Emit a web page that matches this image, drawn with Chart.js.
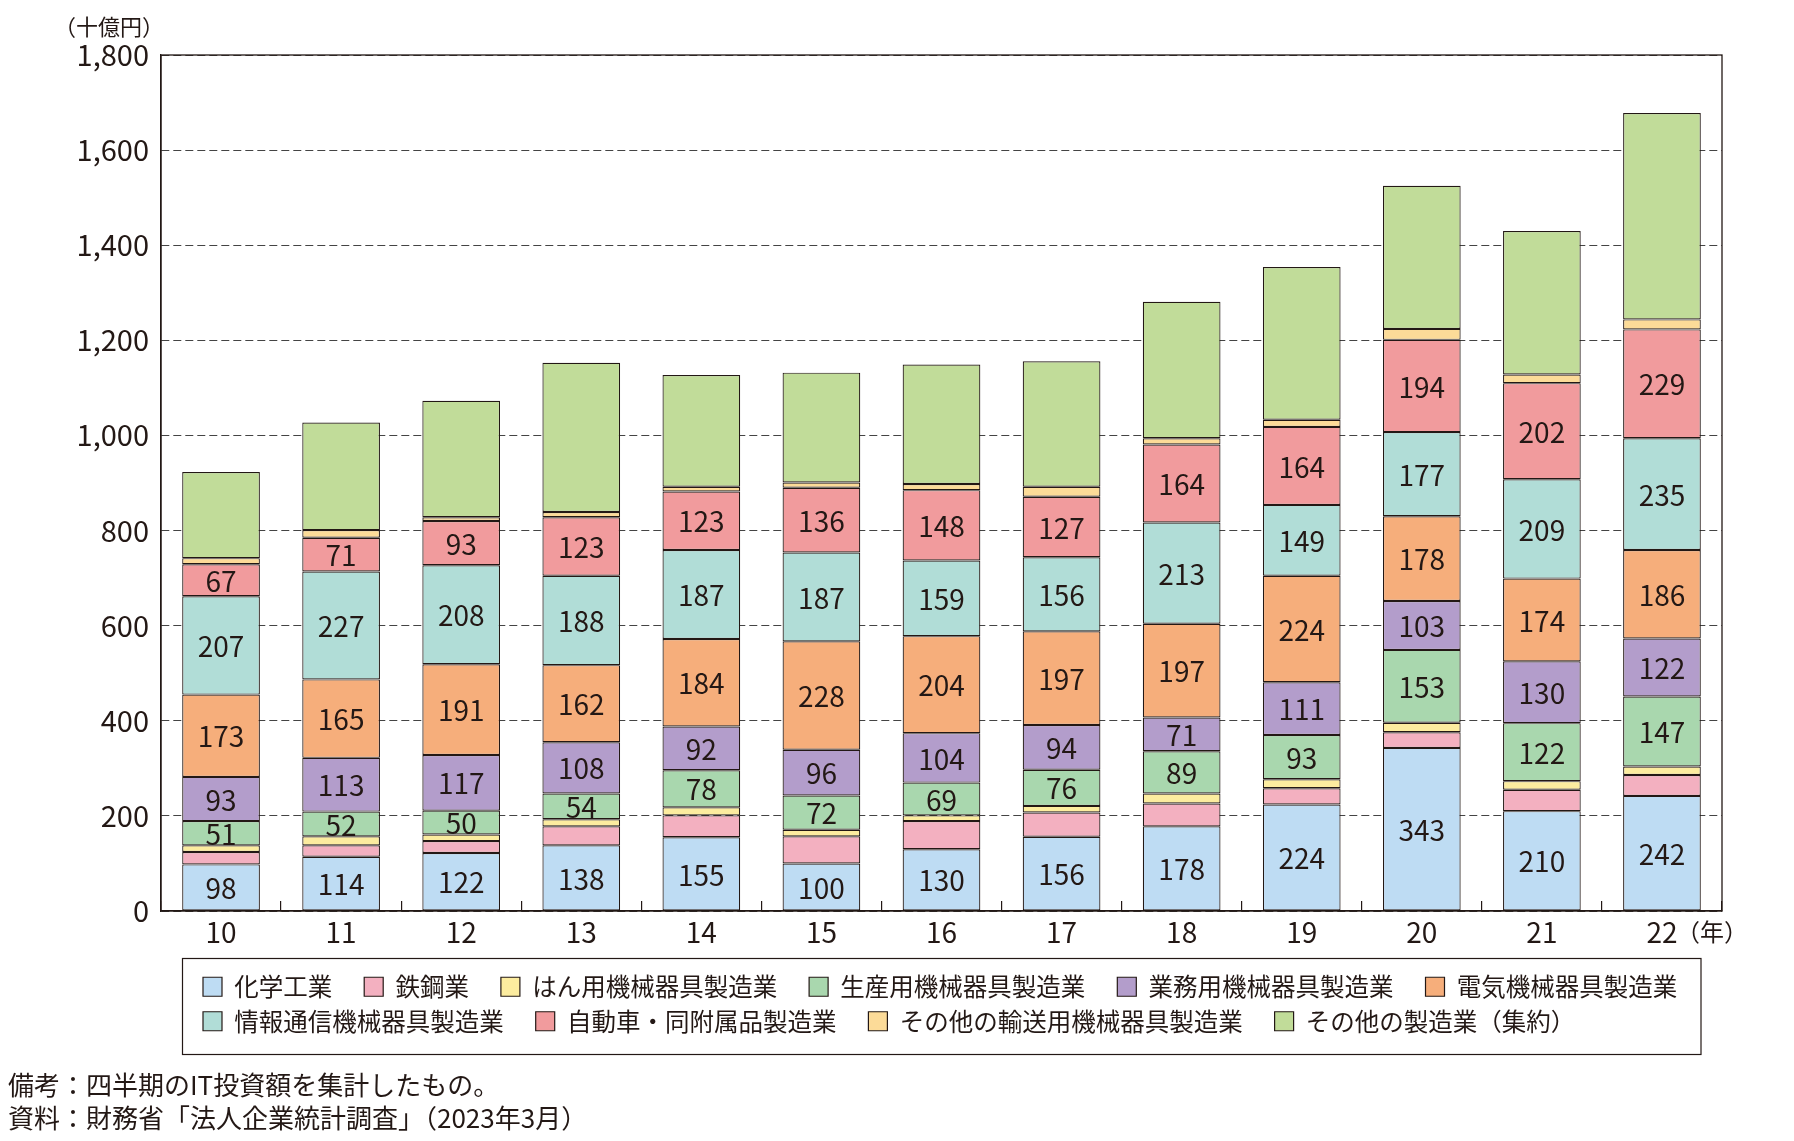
<!DOCTYPE html>
<html lang="ja">
<head>
<meta charset="utf-8">
<title>製造業のIT投資額</title>
<script src="https://cdn.jsdelivr.net/npm/chart.js@4.4.1/dist/chart.umd.min.js"></script>
<style>
html,body{margin:0;padding:0;background:#fff;}
#wrap{width:1794px;height:1141px;}
</style>
</head>
<body>
<div id="wrap"><canvas id="itChart" width="1794" height="1141"></canvas></div>
<script>
// ======================================
// DATA (十億円)
// ======================================

const years = ["10","11","12","13","14","15","16","17","18","19","20","21","22"];

const chemical       = [98,114,122,138,155,100,130,156,178,224,343,210,242];
const steel          = [26,24,25,40,46,57,59,51,48,34,33,45,44];
const generalMach    = [14,19,14,15,17,14,12,14,21,19,20,18,18];
const productionMach = [51,52,50,54,78,72,69,76,89,93,153,122,147];
const businessMach   = [93,113,117,108,92,96,104,94,71,111,103,130,122];
const electrical     = [173,165,191,162,184,228,204,197,197,224,178,174,186];
const infoComm       = [207,227,208,188,187,187,159,156,213,149,177,209,235];
const automobile     = [67,71,93,123,123,136,148,127,164,164,194,202,229];
const otherTransport = [13,16,8,11,10,11,13,21,13,15,23,18,21];
const otherMfg       = [181,226,245,314,235,231,251,264,287,321,301,302,434];

const seriesNames = [
    "化学工業","鉄鋼業","はん用機械器具製造業","生産用機械器具製造業",
    "業務用機械器具製造業","電気機械器具製造業","情報通信機械器具製造業",
    "自動車・同附属品製造業","その他の輸送用機械器具製造業","その他の製造業（集約）"
];

const seriesColors = [
    "#bedcf3","#f3b0c0","#fcec9f","#a9d7ae","#b39dcb",
    "#f6ae7b","#b1ddd7","#f19b9d","#fcdb98","#c1dc99"
];

// series that carry a value label inside the bar
const labeledSeries = [0,3,4,5,6,7];

const FONT = "'Noto Sans CJK JP', 'Noto Sans', sans-serif";
const INK = "#231815";

// ======================================
// PLUGINS
// ======================================

const whiteBg = {
    id:"whiteBg",
    beforeDraw(chart){
        const ctx = chart.ctx;
        ctx.save();
        ctx.fillStyle = "#fff";
        ctx.fillRect(0,0,chart.width,chart.height);
        ctx.restore();
    }
};

const legendShift = {
    id:"legendShift",
    afterLayout(chart){
        // indent legend rows like the original layout
        chart.legend.left += 32;
        chart.legend.right += 32;
    }
};

const barValues = {
    id:"barValues",
    afterDatasetsDraw(chart){
        const ctx = chart.ctx;
        ctx.save();
        ctx.font = "28px " + FONT;
        ctx.fillStyle = INK;
        ctx.textAlign = "center";
        ctx.textBaseline = "middle";
        labeledSeries.forEach(i=>{
            const meta = chart.getDatasetMeta(i);
            meta.data.forEach((bar,j)=>{
                const v = chart.data.datasets[i].data[j];
                ctx.fillText(String(v), bar.x, (bar.y + bar.base) / 2 + 1);
            });
        });
        ctx.restore();
    }
};

const decorations = {
    id:"decorations",
    afterDraw(chart){
        const ctx = chart.ctx;
        const a = chart.chartArea;
        const lg = chart.legend;
        ctx.save();

        // plot frame
        ctx.strokeStyle = INK;
        ctx.lineWidth = 1.3;
        ctx.strokeRect(a.left, a.top, a.right - a.left, a.bottom - a.top);

        // legend frame
        ctx.lineWidth = 1.2;
        ctx.strokeRect(lg.left - 10.5, lg.top - 6, (a.right - 21) - (lg.left - 10.5), lg.height + 24);

        ctx.fillStyle = INK;
        ctx.textBaseline = "middle";

        // unit labels
        ctx.font = "22px " + FONT;
        ctx.textAlign = "right";
        ctx.fillText("（十億円）", a.left + 3, 27);

        const xs = chart.scales.x;
        ctx.font = "24px " + FONT;
        ctx.textAlign = "left";
        ctx.fillText("（年）", xs.getPixelForValue(years.length - 1) + 14, 932);

        // notes
        ctx.font = "26px " + FONT;
        ctx.fillText("備考：四半期のIT投資額を集計したもの。", 8, 1085);
        ctx.fillText("資料：財務省「法人企業統計調査」（2023年3月）", 8, 1118);

        ctx.restore();
    }
};

// ======================================
// CHART
// ======================================

Chart.defaults.font.family = FONT;
Chart.defaults.color = INK;

const allSeries = [
    chemical, steel, generalMach, productionMach, businessMach,
    electrical, infoComm, automobile, otherTransport, otherMfg
];

new Chart(

    document.getElementById("itChart"),

    {
        type:"bar",

        data:{
            labels:years,
            datasets:allSeries.map((values,i)=>({
                label:seriesNames[i],
                data:values,
                backgroundColor:seriesColors[i],
                borderColor:INK,
                borderWidth:1.2,
                borderSkipped:false,
                barPercentage:0.647,
                categoryPercentage:1
            }))
        },

        options:{
            responsive:false,
            animation:false,
            devicePixelRatio:1,
            layout:{
                padding:{ top:55, right:72, bottom:104.5, left:0 }
            },
            plugins:{
                tooltip:{ enabled:false },
                legend:{
                    position:"bottom",
                    align:"start",
                    fullSize:false,
                    maxHeight:72,
                    labels:{
                        boxWidth:19,
                        boxHeight:19,
                        padding:10,
                        color:INK,
                        font:{ size:24.5 },
                        generateLabels(chart){
                            const items = Chart.defaults.plugins.legend.labels.generateLabels(chart);
                            items.forEach(it=>{ it.text = it.text + "    "; });
                            return items;
                        }
                    }
                }
            },
            scales:{
                x:{
                    stacked:true,
                    grid:{
                        drawOnChartArea:false,
                        drawTicks:true,
                        tickLength:-10,
                        color:INK,
                        lineWidth:1.2
                    },
                    border:{ display:true, color:INK, width:1.3 },
                    ticks:{
                        padding:15,
                        maxRotation:0,
                        color:INK,
                        font:{ size:28 }
                    },
                    afterFit(scale){ scale.height = 53.5; }
                },
                y:{
                    stacked:true,
                    min:0,
                    max:1800,
                    grid:{
                        color:"#444",
                        lineWidth:1,
                        drawTicks:false
                    },
                    border:{ display:true, color:INK, width:1.3, dash:[8,4] },
                    ticks:{
                        stepSize:200,
                        padding:12,
                        color:INK,
                        font:{ size:29 },
                        callback:v=>v.toLocaleString("en-US")
                    },
                    afterFit(scale){ scale.width = 161; }
                }
            }
        },

        plugins:[whiteBg, legendShift, barValues, decorations]
    }

);
</script>
</body>
</html>
